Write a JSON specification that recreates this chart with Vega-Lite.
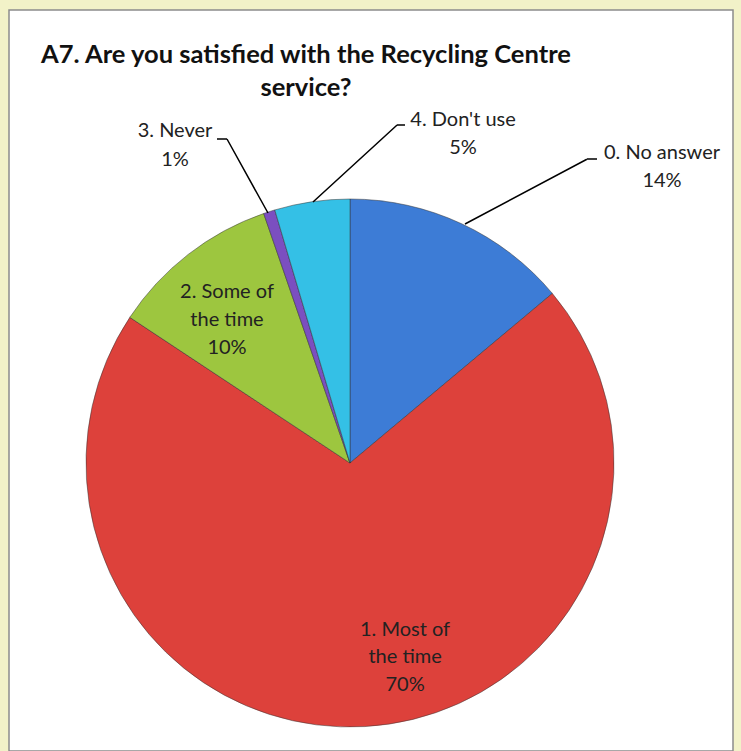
{
  "$schema": "https://vega.github.io/schema/vega-lite/v6.json",
  "width": 724,
  "height": 741,
  "autosize": "none",
  "padding": {"left": 9, "top": 10, "right": 8, "bottom": 0},
  "background": "#F2F2C8",
  "view": {"fill": "white", "stroke": "#8c8c8c", "strokeWidth": 1.5},
  "config": {"view": {"fill": "white", "stroke": "#8c8c8c", "strokeWidth": 1.5}, "font": "Lato"},
  "title": {
    "text": ["A7. Are you satisfied with the Recycling Centre", "service?"],
    "font": "Lato",
    "fontSize": 25.5,
    "fontWeight": "bold",
    "color": "#111111",
    "anchor": "middle",
    "frame": "group",
    "dx": -65,
    "offset": -91,
    "lineHeight": 33
  },
  "data": {
    "values": [
      {"category": "0. No answer", "value": 13.9, "label": ["0. No answer", "14%"]},
      {"category": "1. Most of the time", "value": 70.4, "label": ["1. Most of", "the time", "70%"]},
      {"category": "2. Some of the time", "value": 10.4, "label": ["2. Some of", "the time", "10%"]},
      {"category": "3. Never", "value": 0.7, "label": ["3. Never", "1%"]},
      {"category": "4. Don't use", "value": 4.6, "label": ["4. Don't use", "5%"]}
    ]
  },
  "encoding": {
    "theta": {"field": "value", "type": "quantitative", "stack": true},
    "detail": {"field": "category", "type": "nominal"}
  },
  "layer": [
    {
      "mark": {"type": "arc", "radius": 264, "xOffset": -21, "yOffset": 82.5, "stroke": "#333333", "strokeWidth": 1, "strokeOpacity": 0.5},
      "encoding": {
        "color": {
          "field": "category",
          "type": "nominal",
          "legend": null,
          "scale": {
            "domain": ["0. No answer", "1. Most of the time", "2. Some of the time", "3. Never", "4. Don't use"],
            "range": ["#3d7cd6", "#dd413b", "#9dc63f", "#7b4fc0", "#34c0e6"]
          }
        }
      }
    },
    {
      "mark": {"type": "arc", "radius": 84.6, "radius2": 0, "padAngle": 3.1416, "thetaOffset": -0.195, "xOffset": -103, "yOffset": -167.5, "fillOpacity": 0, "stroke": "#000000", "strokeWidth": 1.5},
      "encoding": {"strokeOpacity": {"condition": {"test": "datum.category === '3. Never'", "value": 1}, "value": 0}}
    },
    {
      "mark": {"type": "arc", "radius": 10, "radius2": 0, "padAngle": 3.1416, "thetaOffset": -1.26, "xOffset": -144, "yOffset": -241.5, "fillOpacity": 0, "stroke": "#000000", "strokeWidth": 1.5},
      "encoding": {"strokeOpacity": {"condition": {"test": "datum.category === '3. Never'", "value": 1}, "value": 0}}
    },
    {
      "mark": {"type": "arc", "radius": 114, "radius2": 0, "padAngle": 3.1416, "thetaOffset": 0.974, "xOffset": -58, "yOffset": -178.5, "fillOpacity": 0, "stroke": "#000000", "strokeWidth": 1.5},
      "encoding": {"strokeOpacity": {"condition": {"test": "datum.category === \"4. Don't use\"", "value": 1}, "value": 0}}
    },
    {
      "mark": {"type": "arc", "radius": 8, "radius2": 0, "padAngle": 3.1416, "thetaOffset": 1.715, "xOffset": 26, "yOffset": -255.5, "fillOpacity": 0, "stroke": "#000000", "strokeWidth": 1.5},
      "encoding": {"strokeOpacity": {"condition": {"test": "datum.category === \"4. Don't use\"", "value": 1}, "value": 0}}
    },
    {
      "mark": {"type": "arc", "radius": 138, "radius2": 0, "padAngle": 3.1416, "thetaOffset": 0.646, "xOffset": 94, "yOffset": -156.5, "fillOpacity": 0, "stroke": "#000000", "strokeWidth": 1.5},
      "encoding": {"strokeOpacity": {"condition": {"test": "datum.category === '0. No answer'", "value": 1}, "value": 0}}
    },
    {
      "mark": {"type": "arc", "radius": 10, "radius2": 0, "padAngle": 3.1416, "thetaOffset": 1.134, "xOffset": 216, "yOffset": -221.5, "fillOpacity": 0, "stroke": "#000000", "strokeWidth": 1.5},
      "encoding": {"strokeOpacity": {"condition": {"test": "datum.category === '0. No answer'", "value": 1}, "value": 0}}
    },
    {
      "mark": {"type": "text", "radius": 439.8, "thetaOffset": 0.352, "xOffset": -21, "yOffset": 82.5, "font": "Lato", "fontSize": 20, "color": "#222222", "lineHeight": 27.5, "align": "center", "baseline": "middle"},
      "encoding": {"text": {"condition": {"test": "datum.category === '0. No answer'", "field": "label"}, "value": ""}}
    },
    {
      "mark": {"type": "text", "radius": 175.8, "thetaOffset": -0.262, "xOffset": -21, "yOffset": 82.5, "font": "Lato", "fontSize": 20, "color": "#222222", "lineHeight": 27.5, "align": "center", "baseline": "middle"},
      "encoding": {"text": {"condition": {"test": "datum.category === '1. Most of the time'", "field": "label"}, "value": ""}}
    },
    {
      "mark": {"type": "text", "radius": 210.6, "thetaOffset": 0.036, "xOffset": -21, "yOffset": 82.5, "font": "Lato", "fontSize": 20, "color": "#222222", "lineHeight": 28, "align": "center", "baseline": "middle"},
      "encoding": {"text": {"condition": {"test": "datum.category === '2. Some of the time'", "field": "label"}, "value": ""}}
    },
    {
      "mark": {"type": "text", "radius": 375.3, "thetaOffset": -0.174, "xOffset": -21, "yOffset": 82.5, "font": "Lato", "fontSize": 20, "color": "#222222", "lineHeight": 29, "align": "center", "baseline": "middle"},
      "encoding": {"text": {"condition": {"test": "datum.category === '3. Never'", "field": "label"}, "value": ""}}
    },
    {
      "mark": {"type": "text", "radius": 361.1, "thetaOffset": 0.463, "xOffset": -21, "yOffset": 82.5, "font": "Lato", "fontSize": 20, "color": "#222222", "lineHeight": 28, "align": "center", "baseline": "middle"},
      "encoding": {"text": {"condition": {"test": "datum.category === \"4. Don't use\"", "field": "label"}, "value": ""}}
    }
  ]
}
